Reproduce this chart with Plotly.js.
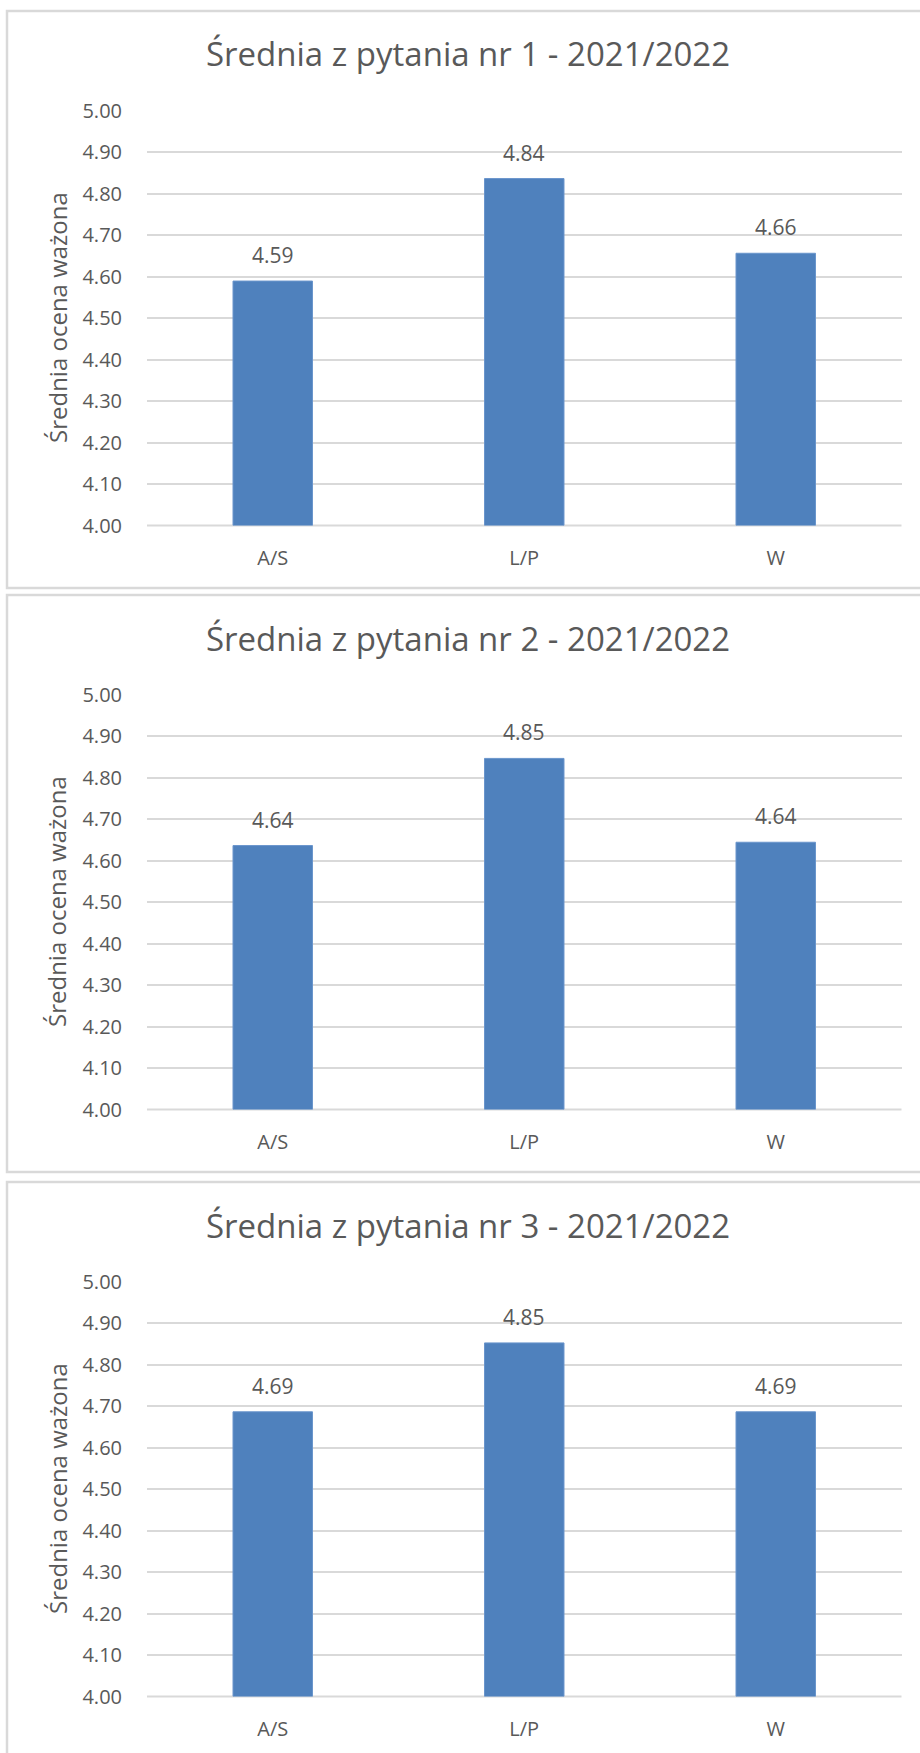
<!DOCTYPE html>
<html>
<head>
<meta charset="utf-8">
<script src="https://cdn.plot.ly/plotly-3.0.1.min.js"></script>
<style>
html,body{margin:0;padding:0;background:#fff;}
#chart{width:920px;height:1753px;}
</style>
</head>
<body>
<div id="chart"></div>
<script>
// ---- data ----
const categories = ["A/S", "L/P", "W"];
const titles = [
  "Średnia z pytania nr 1 - 2021/2022",
  "Średnia z pytania nr 2 - 2021/2022",
  "Średnia z pytania nr 3 - 2021/2022"
];
const q1Values = [4.589, 4.836, 4.656];
const q2Values = [4.636, 4.846, 4.644];
const q3Values = [4.686, 4.852, 4.686];
const yTickValues = [4.0, 4.1, 4.2, 4.3, 4.4, 4.5, 4.6, 4.7, 4.8, 4.9, 5.0];
const yAxisTitle = "Średnia ocena ważona";

// ---- layout constants ----
const W = 920, H = 1753;
const panelTops = [11, 595, 1182];
const panelH = 577;
const plotTopOff = 99.5, plotH = 415;
const plotLeft = 147, plotRight = 901.5;
const titleCenterX = 468;
const FONT = "'Open Sans', sans-serif";
const TXT = "#595959";
const BAR = "#4F81BD";
const GRID = "#D9D9D9";

const seriesList = [q1Values, q2Values, q3Values];
const traces = [];
const annotations = [];
const shapes = [];
const layout = {
  width: W, height: H,
  margin: {l: 0, r: 0, t: 0, b: 0},
  paper_bgcolor: "#fff",
  plot_bgcolor: "rgba(0,0,0,0)",
  showlegend: false,
  bargap: 0.684,
  font: {family: FONT, color: TXT, size: 20},
  annotations: annotations,
  shapes: shapes
};

seriesList.forEach((vals, i) => {
  const n = i === 0 ? "" : String(i + 1);
  const top = panelTops[i];
  const pTop = top + plotTopOff;
  const pBot = pTop + plotH;
  const xa = "xaxis" + n, ya = "yaxis" + n;
  const xr = "x" + n, yr = "y" + n;

  traces.push({
    type: "bar",
    x: categories,
    y: vals.map(v => v - 4),
    base: 4,
    xaxis: xr, yaxis: yr,
    marker: {color: BAR, line: {color: "#6A95CC", width: 1}},
    hoverinfo: "skip"
  });

  layout[xa] = {
    domain: [plotLeft / W, plotRight / W],
    anchor: yr,
    type: "category",
    showgrid: false,
    zeroline: false,
    showline: false,
    ticks: "outside", ticklen: 14, tickcolor: "rgba(0,0,0,0)",
    tickfont: {family: FONT, size: 20, color: TXT},
    fixedrange: true
  };
  layout[ya] = {
    domain: [1 - pBot / H, 1 - pTop / H],
    anchor: xr,
    range: [4, 5],
    tickvals: yTickValues,
    ticktext: yTickValues.map(v => v.toFixed(2)),
    showgrid: true, gridcolor: GRID, gridwidth: 2,
    zeroline: false, showline: false,
    ticks: "outside", ticklen: 20, tickcolor: "rgba(0,0,0,0)",
    tickfont: {family: FONT, size: 20, color: TXT},
    fixedrange: true
  };

  // panel border
  shapes.push({
    type: "rect", xref: "paper", yref: "paper",
    x0: 7 / W, x1: 940 / W,
    y0: 1 - (top + panelH) / H, y1: 1 - top / H,
    line: {color: GRID, width: 2.5}, fillcolor: "rgba(0,0,0,0)", layer: "below"
  });
  // baseline at 4.00
  shapes.push({
    type: "line", xref: "paper", yref: "paper",
    x0: plotLeft / W, x1: plotRight / W,
    y0: 1 - pBot / H, y1: 1 - pBot / H,
    line: {color: GRID, width: 2}, layer: "below"
  });

  // chart title
  annotations.push({
    text: titles[i], xref: "paper", yref: "paper",
    x: titleCenterX / W, y: 1 - (top + 43) / H,
    xanchor: "center", yanchor: "middle", showarrow: false,
    font: {family: FONT, size: 33, color: TXT}
  });
  // y axis title
  annotations.push({
    text: yAxisTitle, xref: "paper", yref: "paper",
    x: 57 / W, y: 1 - (pTop + plotH / 2) / H,
    xanchor: "center", yanchor: "middle", textangle: -90, showarrow: false,
    font: {family: FONT, size: 24, color: TXT}
  });
  // data labels
  categories.forEach((c, k) => {
    annotations.push({
      text: vals[k].toFixed(2), xref: xr, yref: yr,
      x: c, y: vals[k], xanchor: "center", yanchor: "bottom",
      yshift: 10, showarrow: false,
      font: {family: FONT, size: 21, color: TXT}
    });
  });
});

Plotly.newPlot("chart", traces, layout, {staticPlot: true, displayModeBar: false});
</script>
</body>
</html>
